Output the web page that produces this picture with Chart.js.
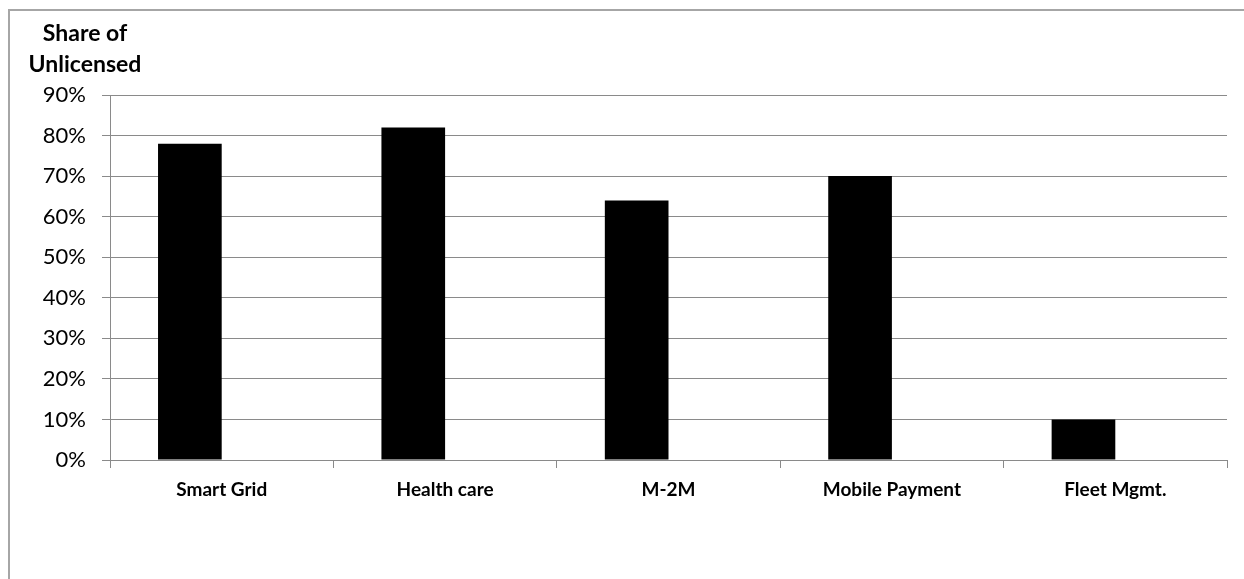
<!DOCTYPE html>
<html>
<head>
<meta charset="utf-8">
<script src="https://cdn.jsdelivr.net/npm/chart.js@4/dist/chart.umd.min.js"></script>
<style>
  body { margin: 0; background: #fff; overflow: hidden; }
  #wrap { position: relative; width: 1244px; height: 579px; overflow: hidden; }
  #frame { position: absolute; left: 8px; top: 9px; width: 1400px; height: 800px; border: 2px solid #a6a6a6; box-sizing: border-box; }
  #chart { position: absolute; left: 0; top: 0; }
</style>
</head>
<body>
<div id="wrap">
  <div id="frame"></div>
  <canvas id="chart" width="1244" height="579"></canvas>
</div>
<script>
const categories = ['Smart Grid', 'Health care', 'M-2M', 'Mobile Payment', 'Fleet Mgmt.'];
const unlicensedShare = [0.78, 0.82, 0.64, 0.70, 0.10];
const emptySeries = [null, null, null, null, null]; // second (empty) series keeps Excel's bar offset
const axisTitleLines = ['Share of', 'Unlicensed'];

const gridColor = '#8a8a8a';
const fontFamily = 'Lato, "Open Sans", sans-serif';

// draws the stacked y-axis title above the tick labels
const axisTitlePlugin = {
    id: 'axisTitle',
    afterDraw(chart) {
        const ctx = chart.ctx;
        ctx.save();
        ctx.fillStyle = '#000';
        ctx.font = 'bold 23px ' + fontFamily;
        ctx.textAlign = 'center';
        ctx.textBaseline = 'alphabetic';
        axisTitleLines.forEach((line, i) => {
            ctx.fillText(line, 85, 41 + i * 31);
        });
        ctx.restore();
    }
};

new Chart(document.getElementById('chart').getContext('2d'), {
    type: 'bar',
    data: {
        labels: categories,
        datasets: [
            {
                label: 'Share of Unlicensed',
                data: unlicensedShare,
                backgroundColor: '#000',
                borderWidth: 0,
                categoryPercentage: 0.57,
                barPercentage: 1
            },
            {
                label: '',
                data: emptySeries,
                backgroundColor: '#000',
                categoryPercentage: 0.57,
                barPercentage: 1
            }
        ]
    },
    options: {
        responsive: false,
        animation: false,
        layout: { padding: { top: 95, right: 17, bottom: 0, left: 0 } },
        plugins: {
            legend: { display: false },
            tooltip: { enabled: false }
        },
        scales: {
            x: {
                offset: true,
                grid: {
                    offset: true,
                    drawOnChartArea: false,
                    drawTicks: true,
                    tickLength: 8,
                    color: gridColor
                },
                border: { color: gridColor },
                ticks: {
                    color: '#000',
                    maxRotation: 0,
                    padding: 10,
                    font: { family: fontFamily, size: 19, weight: 'bold' }
                },
                afterFit: s => { s.height = 119; }
            },
            y: {
                min: 0,
                max: 0.9,
                grid: {
                    color: gridColor,
                    tickLength: 8,
                    drawTicks: true
                },
                border: { color: gridColor },
                ticks: {
                    stepSize: 0.1,
                    color: '#000',
                    padding: 16,
                    font: { family: fontFamily, size: 22 },
                    callback: v => Math.round(v * 100) + '%'
                },
                afterFit: s => { s.width = 110; }
            }
        }
    },
    plugins: [axisTitlePlugin]
});
</script>
</body>
</html>
